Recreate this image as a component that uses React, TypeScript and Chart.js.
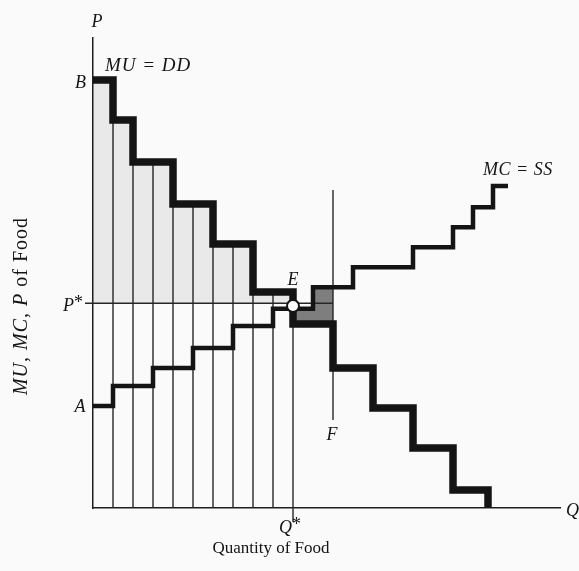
import { useEffect, useRef } from "react";
import { Chart, registerables } from "chart.js";

Chart.register(...registerables);

// ---- data ----
const muBreaks = [0, 1, 2, 4, 6, 8, 10, 12, 14, 16, 18];
const muValues = [10.7, 9.7, 8.65, 7.6, 6.6, 5.4, 4.6, 3.5, 2.5, 1.5, 0.45];
const muEnd = 19.75;

const mcBreaks = [0, 1, 3, 5, 7, 9, 11, 13, 16, 18, 19, 20];
const mcValues = [2.55, 3.05, 3.5, 4.0, 4.55, 4.98, 5.52, 6.02, 6.52, 7.02, 7.52, 8.05];
const mcEnd = 20.75;

const unitLines = [1, 2, 3, 4, 5, 6, 7, 8, 9];
const pStar = 5.12;
const qStar = 10;
const eqValue = 5.05;
const fQuantity = 12;
const fRange = [2.2, 7.95];
const xMax = 23.35;
const yMax = 11.75;

type Pt = { x: number; y: number | null };

// points for a step function (value holds until the next break)
function stepSeries(breaks: number[], values: number[], end: number): Pt[] {
  const pts: Pt[] = [{ x: breaks[0], y: values[0] }];
  for (let i = 1; i < breaks.length; i++) pts.push({ x: breaks[i], y: values[i - 1] }, { x: breaks[i], y: values[i] });
  pts.push({ x: end, y: values[values.length - 1] });
  return pts;
}
function valueRightOf(breaks: number[], values: number[], a: number) {
  let v = values[0];
  breaks.forEach((b, i) => { if (b <= a) v = values[i]; });
  return v;
}
function valueLeftOf(breaks: number[], values: number[], a: number) {
  let v = values[0];
  breaks.forEach((b, i) => { if (b < a) v = values[i]; });
  return v;
}
function sliceStep(breaks: number[], values: number[], a: number, b: number): Pt[] {
  const pts: Pt[] = [{ x: a, y: valueRightOf(breaks, values, a) }];
  breaks.forEach((br, i) => {
    if (br > a && br < b) pts.push({ x: br, y: values[i - 1] }, { x: br, y: values[i] });
  });
  pts.push({ x: b, y: valueLeftOf(breaks, values, b) });
  return pts;
}

const serif = "'Liberation Serif', 'DejaVu Serif', serif";
const ink = "#141414";

type Label = { parts: { t: string; italic: boolean }[]; x: number; y: number; align: "left" | "center" | "right"; size: number; spacing: number };
const labels: Label[] = [
  { parts: [{ t: "P", italic: true }], x: 0.2, y: 12.15, align: "center", size: 18, spacing: 0 },
  { parts: [{ t: "MU = DD", italic: true }], x: 0.6, y: 11.05, align: "left", size: 19, spacing: 1 },
  { parts: [{ t: "B", italic: true }], x: -0.62, y: 10.63, align: "center", size: 18, spacing: 0 },
  { parts: [{ t: "P", italic: true }, { t: "*", italic: false }], x: -0.5, y: 5.05, align: "right", size: 18, spacing: 0 },
  { parts: [{ t: "A", italic: true }], x: -0.65, y: 2.53, align: "center", size: 18, spacing: 0 },
  { parts: [{ t: "E", italic: true }], x: 10.0, y: 5.7, align: "center", size: 18, spacing: 0 },
  { parts: [{ t: "F", italic: true }], x: 11.95, y: 1.83, align: "center", size: 18, spacing: 0 },
  { parts: [{ t: "MC = SS", italic: true }], x: 19.5, y: 8.45, align: "left", size: 18, spacing: 0.5 },
  { parts: [{ t: "Q", italic: true }, { t: "*", italic: false }], x: 9.85, y: -0.5, align: "center", size: 18, spacing: 0 },
  { parts: [{ t: "Q", italic: true }], x: 23.65, y: -0.08, align: "left", size: 18, spacing: 0 },
];

const textPlugin = {
  id: "figText",
  afterDraw(chart: any) {
    const { ctx, scales } = chart;
    const xs = scales.x, ys = scales.y;
    ctx.save();
    ctx.fillStyle = ink;
    ctx.textBaseline = "middle";
    const font = (it: boolean, s: number) => `${it ? "italic " : ""}${s}px ${serif}`;
    labels.forEach((lb) => {
      ctx.letterSpacing = `${lb.spacing}px`;
      const widths = lb.parts.map((p) => { ctx.font = font(p.italic, lb.size); return ctx.measureText(p.t).width; });
      const total = widths.reduce((a, b) => a + b, 0);
      let px = xs.getPixelForValue(lb.x);
      const py = ys.getPixelForValue(lb.y);
      if (lb.align === "center") px -= total / 2;
      if (lb.align === "right") px -= total;
      ctx.textAlign = "left";
      lb.parts.forEach((p, i) => {
        ctx.font = font(p.italic, lb.size);
        const dy = p.t === "*" ? -3 : 0;
        ctx.fillText(p.t, px, py + dy);
        px += widths[i];
      });
    });
    ctx.letterSpacing = "0px";
    // x title
    ctx.font = `17px ${serif}`;
    ctx.textAlign = "center";
    ctx.textBaseline = "alphabetic";
    ctx.fillText("Quantity of Food", xs.getPixelForValue(8.9), 553);
    // y title (mixed italic / roman)
    ctx.letterSpacing = "1px";
    const yParts = [{ t: "MU, MC, P", italic: true }, { t: " of Food", italic: false }];
    const yw = yParts.map((p) => { ctx.font = font(p.italic, 20); return ctx.measureText(p.t).width; });
    const ytot = yw[0] + yw[1];
    ctx.translate(22, 306);
    ctx.rotate(-Math.PI / 2);
    ctx.textAlign = "left";
    ctx.textBaseline = "middle";
    let sx = -ytot / 2;
    yParts.forEach((p, i) => { ctx.font = font(p.italic, 20); ctx.fillText(p.t, sx, 0); sx += yw[i]; });
    ctx.restore();
  },
};

export default function App() {
  const ref = useRef<HTMLCanvasElement | null>(null);
  useEffect(() => {
    if (!ref.current) return;
    const mu = stepSeries(muBreaks, muValues, muEnd);
    mu.push({ x: muEnd, y: 0 });
    const mc = stepSeries(mcBreaks, mcValues, mcEnd);

    const bars: Pt[] = [];
    unitLines.forEach((u) => {
      bars.push({ x: u, y: 0 }, { x: u, y: valueLeftOf(muBreaks, muValues, u) }, { x: u, y: null });
    });
    const qLine: Pt[] = [{ x: qStar, y: -0.35 }, { x: qStar, y: valueLeftOf(muBreaks, muValues, qStar) }];
    const pLine: Pt[] = [{ x: -0.4, y: pStar }, { x: fQuantity, y: pStar }];
    const fLine: Pt[] = [{ x: fQuantity, y: fRange[0] }, { x: fQuantity, y: fRange[1] }];

    const csArea = sliceStep(muBreaks, muValues, 0, qStar);
    const darkTop = sliceStep(mcBreaks, mcValues, qStar, fQuantity);
    const darkBottom = sliceStep(muBreaks, muValues, qStar, fQuantity);

    const thin = { borderColor: "#262626", borderWidth: 1.4, pointRadius: 0, fill: false };
    const curve = { borderColor: ink, borderJoinStyle: "miter", borderCapStyle: "butt", pointRadius: 0, fill: false };

    const datasets: any[] = [
      { label: "E", data: [{ x: qStar, y: eqValue }], showLine: false, pointRadius: 6, pointBackgroundColor: "#ffffff", pointBorderColor: ink, pointBorderWidth: 2, clip: false },
      { label: "MU = DD", data: mu, ...curve, borderWidth: 7.5 },
      { label: "MC = SS", data: mc, ...curve, borderWidth: 4.5 },
      { label: "units", data: bars, ...thin, spanGaps: false },
      { label: "Q*", data: qLine, ...thin, clip: false },
      { label: "P*", data: pLine, ...thin, clip: false },
      { label: "F", data: fLine, ...thin },
      { label: "dark", data: darkTop, borderWidth: 0, pointRadius: 0, backgroundColor: "#7e7e7e", fill: 8 },
      { label: "darkBottom", data: darkBottom, borderWidth: 0, pointRadius: 0, fill: false },
      { label: "consumer surplus", data: csArea, borderWidth: 0, pointRadius: 0, backgroundColor: "rgba(0,0,0,0.065)", fill: { value: pStar } },
    ];

    const chart = new Chart(ref.current, {
      type: "line",
      data: { datasets },
      options: {
        animation: false,
        responsive: false,
        layout: { padding: { left: 93, right: 19, top: 38, bottom: 63 } },
        plugins: { legend: { display: false }, tooltip: { enabled: false } },
        scales: {
          x: {
            type: "linear", min: 0, max: xMax,
            ticks: { display: false }, grid: { display: false, drawTicks: false },
            border: { display: true, color: "#1e1e1e", width: 1.5 },
          },
          y: {
            type: "linear", min: 0, max: yMax,
            ticks: { display: false }, grid: { display: false, drawTicks: false },
            border: { display: true, color: "#1e1e1e", width: 1.5 },
          },
        },
      },
      plugins: [textPlugin],
    });
    return () => chart.destroy();
  }, []);
  return (
    <div style={{ position: "fixed", left: 0, top: 0, width: 579, height: 571, background: "#fafafa" }}>
      <canvas ref={ref} width={579} height={571} style={{ display: "block", width: 579, height: 571 }} />
    </div>
  );
}
